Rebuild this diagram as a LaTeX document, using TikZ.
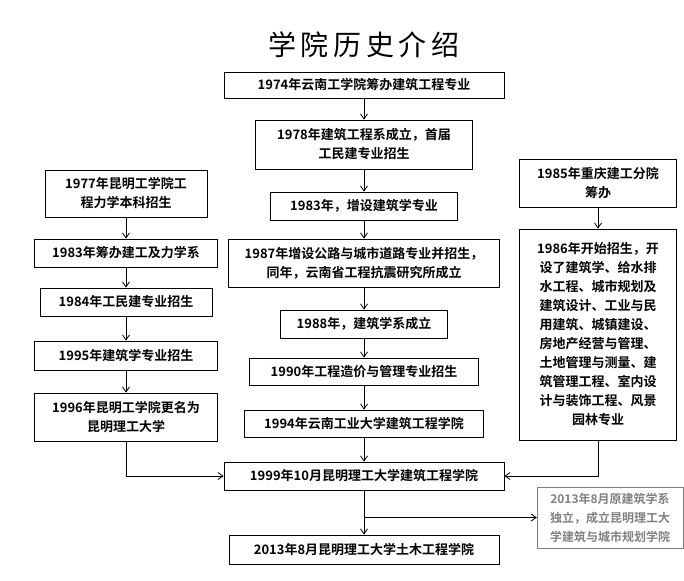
\documentclass[tikz,border=0pt]{standalone}
\usepackage{fontspec}
\setmainfont{Noto Sans CJK SC}[BoldFont={* Bold}]
\usetikzlibrary{arrows.meta}
\begin{document}
\begin{tikzpicture}[x=1pt,y=-1pt,
base/.style={
draw,
thick,
align=center,
inner sep=1pt,
font={\bfseries\fontsize{13pt}{19pt}\selectfont},
},
grey/.style={
base,
draw=gray,
text=gray,
thin,
},
link/.style={
draw,
thick,
-{Straight Barb[length=5pt,width=7pt]},
},
]
\useasboundingbox (0,0) rectangle (684,580);
\node[font={\fontsize{28pt}{30pt}\selectfont}](title)at(364,45){学\,院\,历\,史\,介\,绍};
% middle column
\node[base,minimum width=280,minimum height=26](m1)at(364,85){1974年云南工学院筹办建筑工程专业};
\node[base,minimum width=217,minimum height=49](m2)at(364,144.5){1978年建筑工程系成立，首届\\工民建专业招生};
\node[base,minimum width=187,minimum height=28](m3)at(364,206){1983年，增设建筑学专业};
\node[base,minimum width=271,minimum height=48](m4)at(364,263){1987年增设公路与城市道路专业并招生，\\同年，云南省工程抗震研究所成立};
\node[base,minimum width=167,minimum height=28](m5)at(364,324){1988年，建筑学系成立};
\node[base,minimum width=229,minimum height=27](m6)at(364,371.5){1990年工程造价与管理专业招生};
\node[base,minimum width=239,minimum height=27](m7)at(364,423.5){1994年云南工业大学建筑工程学院};
\node[base,minimum width=280,minimum height=28](m8)at(364,476){1999年10月昆明理工大学建筑工程学院};
\node[base,minimum width=270,minimum height=29](m9)at(364,549.5){2013年8月昆明理工大学土木工程学院};
% left column
\node[base,minimum width=162,minimum height=47](l1)at(126,193.5){1977年昆明工学院工\\程力学本科招生};
\node[base,minimum width=183,minimum height=28](l2)at(126,253){1983年筹办建工及力学系};
\node[base,minimum width=172,minimum height=28](l3)at(126,302){1984年工民建专业招生};
\node[base,minimum width=183,minimum height=29](l4)at(126,355.5){1995年建筑学专业招生};
\node[base,minimum width=183,minimum height=48](l5)at(126,417){1996年昆明工学院更名为\\昆明理工大学};
% right column
\node[base,minimum width=157,minimum height=48](r1)at(598,183){1985年重庆建工分院\\筹办};
\node[base,minimum width=157,minimum height=211](r2)at(598,334.5){1986年开始招生，开\\设了建筑学、给水排\\水工程、城市规划及\\建筑设计、工业与民\\用建筑、城镇建设、\\房地产经营与管理、\\土地管理与测量、建\\筑管理工程、室内设\\计与装饰工程、风景\\园林专业};
\node[grey,minimum width=146,minimum height=61,font={\bfseries\fontsize{12pt}{19pt}\selectfont}](g1)at(610,517.5){2013年8月原建筑学系\\独立，成立昆明理工大\\学建筑与城市规划学院};
\coordinate(split)at(364,517.5);
\draw[link](m1)--(m2);
\draw[link](m2)--(m3);
\draw[link](m3)--(m4);
\draw[link](m4)--(m5);
\draw[link](m5)--(m6);
\draw[link](m6)--(m7);
\draw[link](m7)--(m8);
\draw[link](m8)--(m9);
\draw[link](split)--(split-|g1.west);
\draw[link](l1)--(l2);
\draw[link](l2)--(l3);
\draw[link](l3)--(l4);
\draw[link](l4)--(l5);
\draw[link](l5)|-(m8);
\draw[link](r1)--(r2);
\draw[link](r2)|-(m8);
\end{tikzpicture}
\end{document}
